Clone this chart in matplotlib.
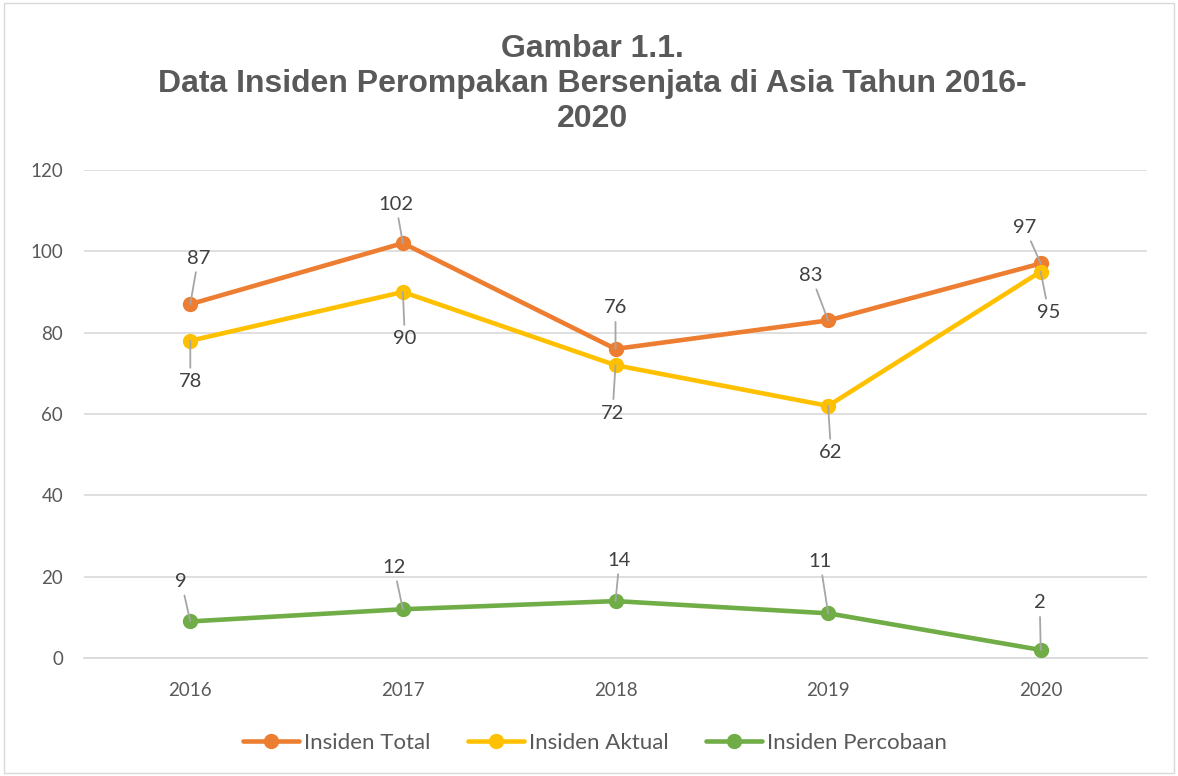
import matplotlib
matplotlib.use("Agg")
import matplotlib.pyplot as plt
from matplotlib.patches import Rectangle

years = ["2016", "2017", "2018", "2019", "2020"]
total = [87, 102, 76, 83, 97]
aktual = [78, 90, 72, 62, 95]
percobaan = [9, 12, 14, 11, 2]
series_names = ["Insiden Total", "Insiden Aktual", "Insiden Percobaan"]
colors = ["#ED7D31", "#FFC000", "#70AD47"]

# label offsets in pixels (dx, dy) relative to each point
offs_total = [(8, 46), (-7, 39), (0, 41), (-17, 45), (-16, 36)]
offs_aktual = [(0, -41), (2, -47), (-3, -48), (3, -47), (8, -41)]
offs_perc = [(-9, 40), (-9, 42), (4, 41), (-8, 52), (-1, 47)]

fig = plt.figure(figsize=(11.78, 7.76), dpi=100)
fig.patches.append(Rectangle((0.003, 0.004), 0.994, 0.992, transform=fig.transFigure,
                             fill=False, edgecolor="#D9D9D9", linewidth=1))
ax = fig.add_axes([0.0713, 0.152, 0.9024, 0.629])

lab_font = "Lato"
x = list(range(len(years)))
for vals, col, name, offs in [(total, colors[0], series_names[0], offs_total),
                              (aktual, colors[1], series_names[1], offs_aktual),
                              (percobaan, colors[2], series_names[2], offs_perc)]:
    ax.plot(x, vals, color=col, linewidth=3.3, marker="o", markersize=10,
            label=name, solid_capstyle="round", zorder=3)
    for xi, v, (dx, dy) in zip(x, vals, offs):
        ax.annotate(str(v), xy=(xi, v), xytext=(dx, dy), textcoords="offset pixels",
                    ha="center", va="center", fontsize=14.5, color="#404040",
                    family=lab_font,
                    arrowprops=dict(arrowstyle="-", color="#A6A6A6", lw=1.3,
                                    shrinkA=2, shrinkB=0), zorder=4)

ax.set_xlim(-0.5, 4.5)
ax.set_ylim(0, 120)
ax.set_yticks(range(0, 121, 20))
ax.set_xticks(x)
ax.set_xticklabels(years)
ax.grid(axis="y", color="#D9D9D9", linewidth=1.2)
ax.set_axisbelow(True)
for s in ["top", "right", "left"]:
    ax.spines[s].set_visible(False)
ax.spines["bottom"].set_color("#D9D9D9")
ax.spines["bottom"].set_linewidth(1.2)
ax.tick_params(length=0, labelsize=13.5, labelcolor="#595959")
ax.tick_params(axis="x", pad=17)
ax.tick_params(axis="y", pad=15)
for t in ax.get_xticklabels() + ax.get_yticklabels():
    t.set_family(lab_font)

fig.text(0.503, 0.892, "Gambar 1.1.\nData Insiden Perompakan Bersenjata di Asia Tahun 2016-\n2020",
         ha="center", va="center", fontsize=23, fontweight="bold", color="#595959",
         family="Liberation Sans", linespacing=1.22)

leg = fig.legend(loc="center", bbox_to_anchor=(0.505, 0.043), ncol=3, frameon=False,
                 prop={"family": lab_font, "size": 16}, handlelength=2.5,
                 columnspacing=1.7, handletextpad=0.23)
for t in leg.get_texts():
    t.set_color("#595959")

fig.savefig("out.png", dpi=100)
